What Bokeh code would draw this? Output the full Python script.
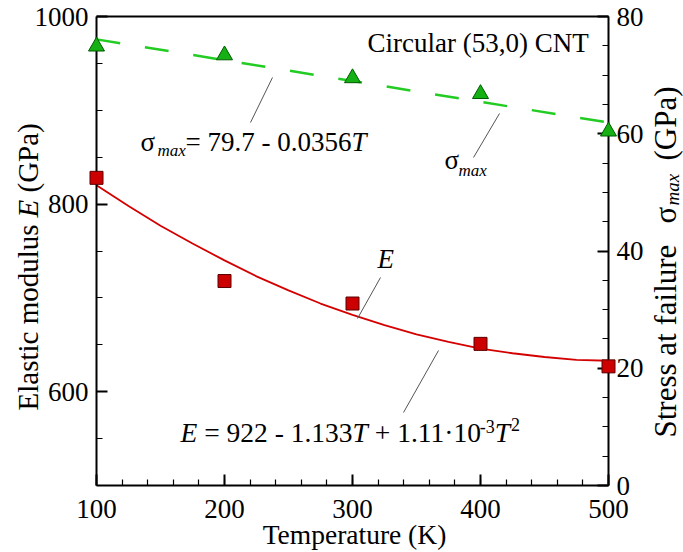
import math
from bokeh.plotting import figure
from bokeh.models import Range1d, LinearAxis, FixedTicker, Label
from bokeh.embed import file_html
from bokeh.resources import INLINE

# ---------------- data ----------------
temps = [100, 200, 300, 400, 500]
modulus_E = [828, 718, 694, 651, 627]            # GPa, squares (left axis)
stress_max = [74.9, 73.4, 69.5, 66.8, 60.4]     # GPa, triangles (right axis)

fit_T = [100, 125, 150, 175, 200, 225, 250, 275, 300, 325, 350, 375, 400, 425, 450, 475, 500]
fit_E = [820, 798, 777, 758, 740, 723, 708, 694, 682, 671, 661, 653, 646, 641, 637, 634, 633]
fit_sigma_T = [100, 500]
fit_sigma = [76.1, 61.9]

x_ticks = [100, 200, 300, 400, 500]
E_ticks = [600, 800, 1000]
sigma_ticks = [0, 20, 40, 60, 80]

# ---------------- layout ----------------
WID, HEI = 683, 552
FL, FR, FT, FB = 96, 608, 16, 485          # where the axes box sits on the canvas
XMIN, XMAX = 100, 500
EMIN, EMAX = 500, 1000
SMIN, SMAX = 0, 80

def X(px):
    return XMIN + (px - FL) * (XMAX - XMIN) / (FR - FL)

def Y(py):
    return EMAX - (py - FT) * (EMAX - EMIN) / (FB - FT)

def S(py):
    return SMAX - (py - FT) * (SMAX - SMIN) / (FB - FT)

TW = {' ': 250, '=': 564, '-': 333, '+': 564, '.': 250, ',': 250, '(': 333, ')': 333,
      '·': 250, 'E': 611, 'T': 611, 'σ': 550}

def tw(s, fs):
    return sum(TW.get(c, 500) for c in s) * fs / 1000.0

FONT = "Liberation Serif"

p = figure(width=WID, height=HEI,
           x_range=Range1d(X(0), X(WID)), y_range=Range1d(Y(HEI), Y(0)),
           x_axis_location=None, y_axis_location=None,
           output_backend="svg", toolbar_location=None, min_border=0)
p.title.visible = False
p.extra_y_ranges = {"sigma": Range1d(S(HEI), S(0))}
p.background_fill_color = "white"
p.border_fill_color = "white"
p.outline_line_color = None
for g in p.grid:
    g.visible = False

def style_axis(ax, ticks, minors):
    ax.ticker = FixedTicker(ticks=ticks, minor_ticks=minors)
    ax.axis_line_width = 2
    ax.axis_line_color = "black"
    ax.major_tick_in = 11
    ax.major_tick_out = 0
    ax.minor_tick_in = 6
    ax.minor_tick_out = 0
    ax.major_tick_line_width = 2
    ax.minor_tick_line_width = 1.2
    ax.major_tick_line_color = "black"
    ax.minor_tick_line_color = "black"
    ax.major_label_text_font = FONT
    ax.major_label_text_font_size = "27px"
    ax.major_label_text_color = "black"
    ax.major_label_standoff = 8

xaxis = LinearAxis(fixed_location=EMIN, bounds=(XMIN, XMAX))
style_axis(xaxis, x_ticks, list(range(100, 501, 20)))
xaxis.major_label_standoff = 14
p.add_layout(xaxis, "below")

yaxis = LinearAxis(fixed_location=XMIN, bounds=(EMIN, EMAX))
style_axis(yaxis, E_ticks, list(range(550, 1000, 50)))
p.add_layout(yaxis, "left")

raxis = LinearAxis(y_range_name="sigma", fixed_location=XMAX, bounds=(SMIN, SMAX))
style_axis(raxis, sigma_ticks, list(range(0, 81, 5)))
p.add_layout(raxis, "right")

taxis = LinearAxis(fixed_location=EMAX, bounds=(XMIN, XMAX))
taxis.ticker = FixedTicker(ticks=[], minor_ticks=[])
taxis.axis_line_width = 2
taxis.axis_line_color = "black"
taxis.major_tick_line_color = None
taxis.minor_tick_line_color = None
taxis.major_label_text_font_size = "0px"
p.add_layout(taxis, "above")

# ---------------- data marks ----------------
p.line(fit_T, fit_E, line_color="#d40000", line_width=1.8)
p.line(fit_sigma_T, fit_sigma, y_range_name="sigma", line_color="#22cc22",
       line_width=2.5, line_dash="24 25")
sq = p.scatter(temps, modulus_E, marker="square", size=13, fill_color="#cc0000",
               line_color="#5a0000", line_width=1)
tr = p.scatter(temps, stress_max, y_range_name="sigma", marker="triangle", size=16,
               fill_color="#14b014", line_color="#005a00", line_width=1)
sq.level = "overlay"
tr.level = "overlay"

# leader lines
p.segment(x0=[X(272), X(499), X(380), X(438)], y0=[Y(77), Y(113), Y(277), Y(350)],
          x1=[X(250), X(473), X(357), X(403)], y1=[Y(122), Y(157), Y(318), Y(412)],
          line_color="#555555", line_width=1)

# ---------------- texts ----------------
def txt(px, py, s, fs, italic=False, angle=0.0, align="left"):
    sh = 0.35 * fs
    if angle == 0:
        py -= sh
    else:
        px -= sh
    p.add_layout(Label(x=X(px), y=Y(py), text=s, text_font=FONT,
                       text_font_size=f"{fs}px",
                       text_font_style="italic" if italic else "normal",
                       text_color="black", text_align=align,
                       text_baseline="alphabetic", angle=angle))

txt(367, 52, "Circular (53,0) CNT", 27)

# sigma_max = 79.7 - 0.0356T
txt(140, 151, "σ", 27)
txt(157, 156, "max", 17, italic=True)
s1 = "= 79.7 - 0.0356"
txt(185, 151, s1, 27)
txt(185 + tw(s1, 27), 151, "T", 27, italic=True)

# sigma_max tag
txt(444, 169, "σ", 27)
txt(458, 176, "max", 17, italic=True)

# E tag
txt(377, 268, "E", 27, italic=True)

# E = 922 - 1.133T + 1.11·10^-3 T^2
fs = 27.5
x = 180
txt(x, 442, "E", fs, italic=True); x += 611 * fs / 1000 + tw(" ", fs)
a = "= 922 - 1.133"
txt(x, 442, a, fs); x += tw(a, fs)
txt(x, 442, "T", fs, italic=True); x += 556 * fs / 1000 + tw(" ", fs)
b = "+ 1.11·10"
txt(x, 442, b, fs); x += tw(b, fs)
txt(x, 432, "-3", 18); x += tw("-3", 18)
txt(x, 442, "T", fs, italic=True); x += 556 * fs / 1000 + 1
txt(x, 430, "2", 18)

# x axis title
txt(354, 544, "Temperature (K)", 27.5, align="center")

# left axis title (rotated)
fl = 29
txt(38, 410, "Elastic modulus", fl, angle=math.pi / 2)
txt(38, 217, "E", fl, italic=True, angle=math.pi / 2)
txt(38, 192, "(GPa)", fl, angle=math.pi / 2)

# right axis title (rotated)
fr = 31
txt(676, 437, "Stress at failure", fr, angle=math.pi / 2)
txt(676, 223, "σ", fr, angle=math.pi / 2)
txt(679, 205, "max", 19, italic=True, angle=math.pi / 2)
txt(676, 160, "(GPa)", fr, angle=math.pi / 2)

open("out.html", "w").write(file_html(p, INLINE))
